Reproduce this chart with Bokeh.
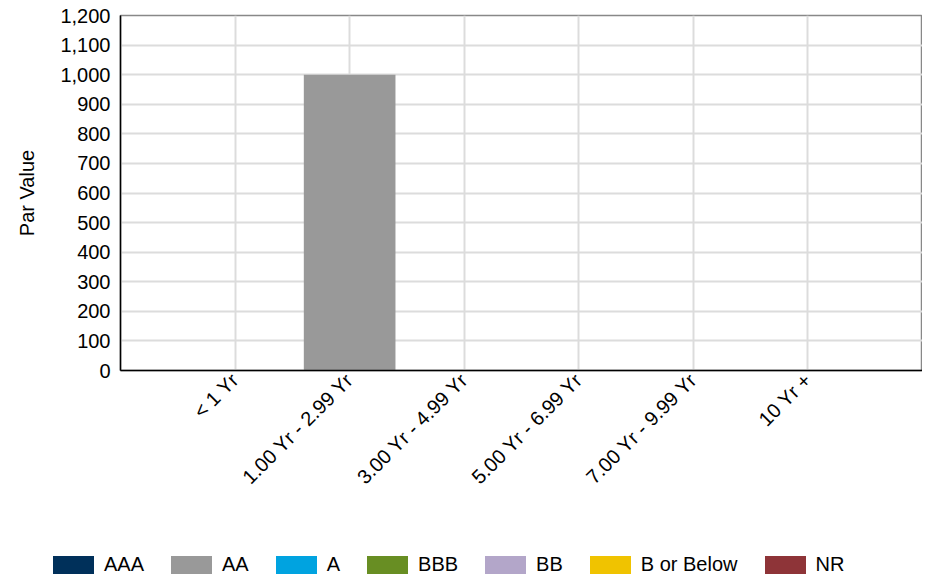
import math
from bokeh.plotting import figure
from bokeh.layouts import column
from bokeh.models import (ColumnDataSource, FactorRange, Range1d, Div,
                          SingleIntervalTicker, NumeralTickFormatter)
from bokeh.embed import file_html
from bokeh.resources import INLINE

# ---- data ----
categories = ["< 1 Yr", "1.00 Yr - 2.99 Yr", "3.00 Yr - 4.99 Yr",
              "5.00 Yr - 6.99 Yr", "7.00 Yr - 9.99 Yr", "10 Yr +"]
ratings = ["AAA", "AA", "A", "BBB", "BB", "B or Below", "NR"]
aaa = [0, 0, 0, 0, 0, 0]
aa = [0, 1000, 0, 0, 0, 0]
a = [0, 0, 0, 0, 0, 0]
bbb = [0, 0, 0, 0, 0, 0]
bb = [0, 0, 0, 0, 0, 0]
b_or_below = [0, 0, 0, 0, 0, 0]
nr = [0, 0, 0, 0, 0, 0]
colors = ["#00305a", "#999999", "#00a3e0", "#688e23", "#b3a6c9", "#f0c300", "#8e3438"]

source = ColumnDataSource(data={
    "cat": categories,
    "AAA": aaa, "AA": aa, "A": a, "BBB": bbb, "BB": bb,
    "B or Below": b_or_below, "NR": nr,
})

FONT = "Liberation Sans"
FS = "20px"

p = figure(x_range=FactorRange(*categories, range_padding=1/6, range_padding_units="percent"),
           y_range=Range1d(0, 1200),
           frame_width=802, frame_height=355,
           min_border_left=120, min_border_right=0, min_border_top=15, min_border_bottom=166,
           output_backend="svg", toolbar_location=None)

rends = p.vbar_stack(ratings, x="cat", width=0.8, source=source, color=colors, line_color=None)

# axes
p.yaxis.ticker = SingleIntervalTicker(interval=100)
p.yaxis.formatter = NumeralTickFormatter(format="0,0")
p.yaxis.axis_label = "Par Value"
p.yaxis.axis_label_text_font = FONT
p.yaxis.axis_label_text_font_size = FS
p.yaxis.axis_label_text_font_style = "normal"
p.yaxis.axis_label_text_color = "black"
p.yaxis.axis_label_standoff = 19
for ax in (p.xaxis[0], p.yaxis[0]):
    ax.major_label_text_font = FONT
    ax.major_label_text_font_size = FS
    ax.major_label_text_color = "black"
    ax.major_tick_line_color = None
    ax.minor_tick_line_color = None
    ax.major_tick_out = 0
    ax.major_tick_in = 0
    ax.axis_line_color = "black"
    ax.axis_line_width = 1.5
p.yaxis.major_label_standoff = 6
p.xaxis.major_label_standoff = 6
p.xaxis.major_label_orientation = math.pi / 4

# grid
for g in (p.xgrid[0], p.ygrid[0]):
    g.grid_line_color = "#dcdcdc"
    g.grid_line_width = 2

p.outline_line_color = "#888888"
p.outline_line_width = 1.5
p.background_fill_color = "white"
p.border_fill_color = "white"

# ---- legend strip below the rotated labels (real HTML text) ----
items_html = "".join(
    f'<span style="display:inline-flex;align-items:center;margin-right:27px;">'
    f'<span style="display:inline-block;width:41px;height:18px;background:{c};margin-right:10px;"></span>'
    f'<span>{r}</span></span>'
    for r, c in zip(ratings, colors)
)
legend_div = Div(
    text=(f'<div style="display:flex;align-items:center;padding-left:53px;padding-top:17px;'
          f"font-family:'{FONT}';font-size:{FS};color:black;white-space:nowrap;line-height:23px;\">"
          f'{items_html}</div>'),
    width=922, height=40, margin=(0, 0, 0, 0))

layout = column(p, legend_div, spacing=0)
open("out.html", "w").write(file_html(layout, INLINE))
